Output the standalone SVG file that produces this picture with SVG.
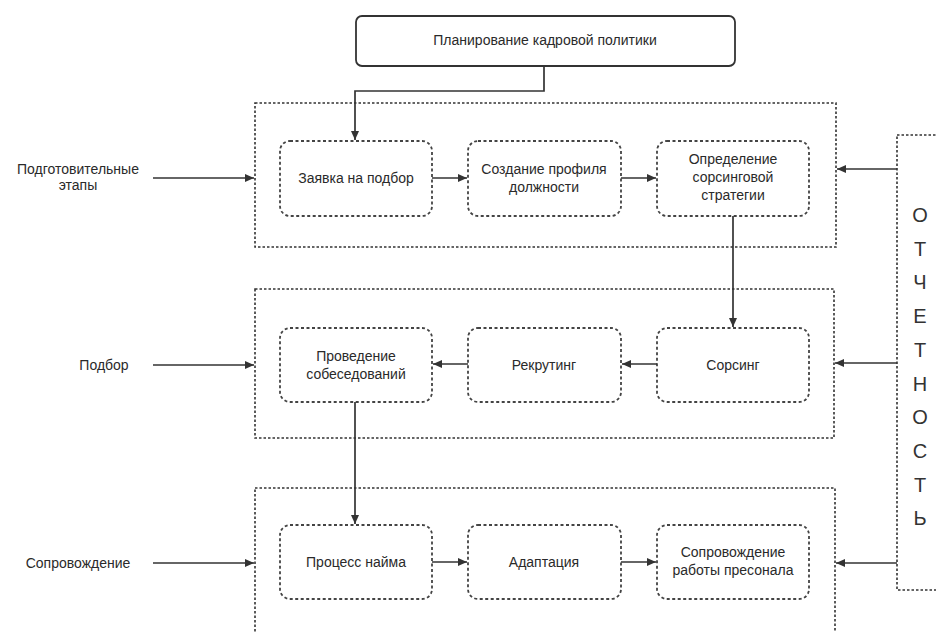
<svg xmlns="http://www.w3.org/2000/svg" width="936" height="632" viewBox="0 0 936 632">
<defs>
<style>
.bg{fill:#fff}
.t{font-family:"Liberation Sans",Arial,sans-serif;font-size:14px;fill:#2a2a2a;text-anchor:middle}
.big{font-family:"Liberation Sans",Arial,sans-serif;font-size:20px;fill:#333;text-anchor:middle}
.node{fill:#fff;stroke:#444;stroke-width:1.8;stroke-dasharray:3 2.5}
.grp{fill:none;stroke:#333;stroke-width:1.6;stroke-dasharray:2.5 2}
.solid{fill:#fff;stroke:#333;stroke-width:1.8}
.c{fill:none;stroke:#333;stroke-width:1.7}
</style>
<marker id="ah" markerUnits="userSpaceOnUse" markerWidth="10" markerHeight="8" refX="9" refY="4" orient="auto">
<path d="M0,0 L9,4 L0,8 z" fill="#333"/>
</marker>
</defs>
<rect class="bg" x="0" y="0" width="936" height="632"/>

<g id="group-prep"><rect class="grp" x="255" y="103" width="581" height="144"/></g>
<g id="group-select"><rect class="grp" x="255" y="289" width="579" height="149"/></g>
<g id="group-support"><rect class="grp" x="255" y="488" width="580" height="160"/></g>

<g id="reporting">
<rect class="grp" x="897" y="135" width="60" height="455"/>
<text class="big" x="920" y="222">О</text>
<text class="big" x="920" y="256">Т</text>
<text class="big" x="920" y="289">Ч</text>
<text class="big" x="920" y="323">Е</text>
<text class="big" x="920" y="357">Т</text>
<text class="big" x="920" y="391">Н</text>
<text class="big" x="920" y="424">О</text>
<text class="big" x="920" y="458">С</text>
<text class="big" x="920" y="492">Т</text>
<text class="big" x="920" y="525">Ь</text>
</g>

<g id="planning">
<rect class="solid" x="356" y="16" width="379" height="50" rx="6"/>
<text class="t" x="545" y="45">Планирование кадровой политики</text>
</g>

<g id="label-prep"><text class="t" x="78" y="174">Подготовительные</text><text class="t" x="78" y="190">этапы</text></g>
<g id="label-select"><text class="t" x="104" y="370">Подбор</text></g>
<g id="label-support"><text class="t" x="78" y="568">Сопровождение</text></g>

<g id="n-request"><rect class="node" x="280" y="141" width="152" height="75" rx="10"/><text class="t" x="356" y="183">Заявка на подбор</text></g>
<g id="n-profile"><rect class="node" x="468" y="141" width="153" height="75" rx="10"/><text class="t" x="544" y="174">Создание профиля</text><text class="t" x="544" y="192">должности</text></g>
<g id="n-strategy"><rect class="node" x="657" y="141" width="152" height="75" rx="10"/><text class="t" x="733" y="164">Определение</text><text class="t" x="733" y="182">сорсинговой</text><text class="t" x="733" y="200">стратегии</text></g>

<g id="n-interview"><rect class="node" x="280" y="328" width="152" height="74" rx="10"/><text class="t" x="356" y="361">Проведение</text><text class="t" x="356" y="379">собеседований</text></g>
<g id="n-recruit"><rect class="node" x="468" y="328" width="153" height="74" rx="10"/><text class="t" x="544" y="370">Рекрутинг</text></g>
<g id="n-sourcing"><rect class="node" x="657" y="328" width="152" height="74" rx="10"/><text class="t" x="733" y="370">Сорсинг</text></g>

<g id="n-hire"><rect class="node" x="280" y="525" width="152" height="74" rx="10"/><text class="t" x="356" y="567">Процесс найма</text></g>
<g id="n-adapt"><rect class="node" x="468" y="525" width="153" height="74" rx="10"/><text class="t" x="544" y="567">Адаптация</text></g>
<g id="n-follow"><rect class="node" x="657" y="525" width="152" height="74" rx="10"/><text class="t" x="733" y="557">Сопровождение</text><text class="t" x="733" y="575">работы пресонала</text></g>

<g id="connectors">
<path class="c" d="M544,66 V91 H355 V140" marker-end="url(#ah)"/>
<path class="c" d="M432,178 H467" marker-end="url(#ah)"/>
<path class="c" d="M621,178 H656" marker-end="url(#ah)"/>
<path class="c" d="M733,216 V327" marker-end="url(#ah)"/>
<path class="c" d="M657,364 H622" marker-end="url(#ah)"/>
<path class="c" d="M468,364 H433" marker-end="url(#ah)"/>
<path class="c" d="M355,402 V524" marker-end="url(#ah)"/>
<path class="c" d="M432,562 H467" marker-end="url(#ah)"/>
<path class="c" d="M621,562 H656" marker-end="url(#ah)"/>
<path class="c" d="M153,178 H254" marker-end="url(#ah)"/>
<path class="c" d="M153,365 H254" marker-end="url(#ah)"/>
<path class="c" d="M153,563 H254" marker-end="url(#ah)"/>
<path class="c" d="M897,169 H837" marker-end="url(#ah)"/>
<path class="c" d="M897,363 H835" marker-end="url(#ah)"/>
<path class="c" d="M897,563 H836" marker-end="url(#ah)"/>
</g>
</svg>
